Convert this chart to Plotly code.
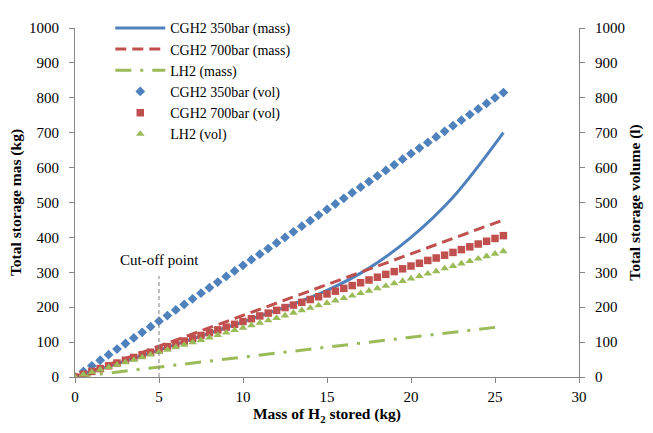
import plotly.graph_objects as go

x_vol = [0, 0.5, 1, 1.5, 2, 2.5, 3, 3.5, 4, 4.5, 5, 5.5, 6, 6.5, 7, 7.5, 8, 8.5, 9, 9.5,
         10, 10.5, 11, 11.5, 12, 12.5, 13, 13.5, 14, 14.5, 15, 15.5, 16, 16.5, 17, 17.5,
         18, 18.5, 19, 19.5, 20, 20.5, 21, 21.5, 22, 22.5, 23, 23.5, 24, 24.5, 25, 25.5]

vol_350 = [0, 16, 32, 48, 64, 80, 96, 112, 128, 144, 160, 176, 192, 208, 224, 240, 256, 272,
           288, 304, 320, 336, 352, 368, 384, 400, 416, 432, 448, 464, 480, 496, 512, 528,
           544, 560, 576, 592, 608, 624, 640, 656, 672, 688, 704, 720, 736, 752, 768, 784, 800, 815]
vol_700 = [0, 8, 16, 24, 32, 40, 48, 56, 64, 71, 79, 87, 95, 103, 111, 119, 127, 135, 143, 151,
           159, 167, 175, 183, 191, 199, 206, 214, 222, 230, 238, 246, 254, 262, 270, 278, 286,
           294, 302, 310, 318, 326, 334, 341, 349, 357, 365, 373, 381, 389, 397, 405]
vol_lh2 = [0, 7, 14, 21, 28, 35, 42, 49, 56, 64, 71, 78, 85, 92, 99, 106, 113, 120, 127, 134,
           141, 148, 155, 162, 169, 176, 184, 191, 198, 205, 212, 219, 226, 233, 240, 247, 254,
           261, 268, 275, 282, 289, 296, 303, 311, 318, 325, 332, 339, 346, 353, 360]

x_m350 = [0, 2.5, 5, 7.5, 10, 12.5, 15, 17.5, 20, 22.5, 25.5]
mass_350 = [0, 38, 77, 117, 158, 200, 248, 312, 400, 515, 700]
x_lin = [0, 5, 10, 15, 20, 25.5]
mass_700 = [0, 88, 176, 265, 353, 450]
mass_lh2 = [0, 28, 57, 85, 114, 145]

cutoff_x = 5
cutoff_top = 290

BLUE = "#4F81BD"
RED = "#C0504D"
GREEN = "#9BBB59"
FONT = "Liberation Serif"

fig = go.Figure()
fig.add_trace(go.Scatter(x=x_m350, y=mass_350, mode="lines", name="CGH2 350bar (mass)",
                         line=dict(color=BLUE, width=3, shape="spline")))
fig.add_trace(go.Scatter(x=x_lin, y=mass_700, mode="lines", name="CGH2 700bar (mass)",
                         line=dict(color=RED, width=3, dash="11px,6px")))
fig.add_trace(go.Scatter(x=x_lin, y=mass_lh2, mode="lines", name="LH2 (mass)",
                         line=dict(color=GREEN, width=3, dash="16px,9px,3px,9px")))
fig.add_trace(go.Scatter(x=x_vol, y=vol_350, mode="markers", name="CGH2 350bar (vol)", yaxis="y2",
                         marker=dict(color=BLUE, symbol="diamond", size=7.5)))
fig.add_trace(go.Scatter(x=x_vol, y=vol_700, mode="markers", name="CGH2 700bar (vol)", yaxis="y2",
                         marker=dict(color=RED, symbol="square", size=7.5)))
fig.add_trace(go.Scatter(x=x_vol, y=vol_lh2, mode="markers", name="LH2 (vol)", yaxis="y2",
                         marker=dict(color=GREEN, symbol="triangle-up", size=7.5)))

fig.add_shape(type="line", x0=cutoff_x, x1=cutoff_x, y0=0, y1=cutoff_top, xref="x", yref="y",
              line=dict(color="#808080", width=1, dash="4px,3px"))
fig.add_annotation(x=cutoff_x, y=cutoff_top, xref="x", yref="y", text="Cut-off point",
                   showarrow=False, yanchor="bottom", yshift=6,
                   font=dict(family=FONT, size=15, color="#000"))

axis_common = dict(showgrid=False, zeroline=False, showline=True, linecolor="#868686", linewidth=1,
                   ticks="outside", ticklen=5, tickcolor="#868686",
                   tickfont=dict(family=FONT, size=15, color="#000"))
TITLE_FONT = dict(family=FONT, size=15.5, color="#000")

fig.update_layout(
    width=653, height=433,
    margin=dict(l=75, r=71, t=12, b=56),
    paper_bgcolor="white", plot_bgcolor="white",
    font=dict(family=FONT, size=15, color="#000"),
    xaxis=dict(range=[0, 30], dtick=5, ticklabelstandoff=1, **axis_common,
               title=dict(text="<b>Mass of H<sub>2</sub> stored (kg)</b>", standoff=4,
                          font=TITLE_FONT)),
    yaxis=dict(range=[0, 1000], dtick=100, ticklabelstandoff=7, **axis_common,
               title=dict(text="<b>Total storage mas (kg)</b>", standoff=3,
                          font=TITLE_FONT)),
    yaxis2=dict(range=[0, 1000], dtick=100, overlaying="y", side="right", ticklabelstandoff=7,
                **axis_common,
                title=dict(text="<b>Total storage volume (l)</b>", standoff=5,
                           font=TITLE_FONT)),
    legend=dict(x=0.07, y=1.045, xanchor="left", yanchor="top", bgcolor="rgba(0,0,0,0)",
                font=dict(family=FONT, size=14), tracegroupgap=0, itemwidth=50),
    showlegend=True,
)

fig.write_html("out.html")
